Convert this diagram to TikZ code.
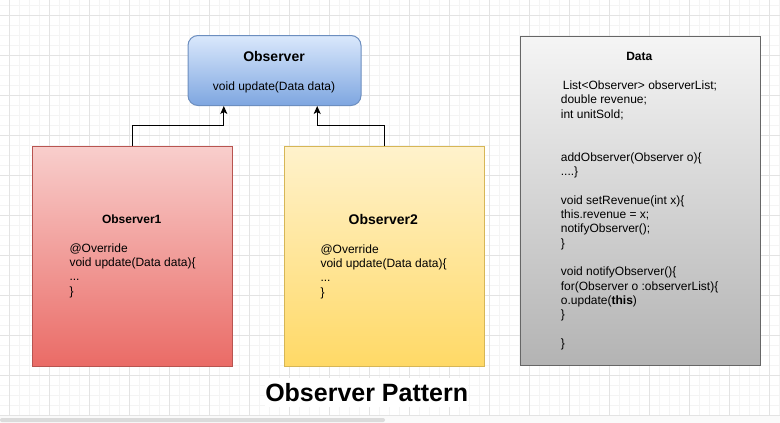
\documentclass[tikz,border=0pt]{standalone}
\usepackage{fontspec}
\setmainfont{Liberation Sans}
\usetikzlibrary{arrows.meta,calc}
\definecolor{blueT}{HTML}{DAE8FC}\definecolor{blueB}{HTML}{7EA6E0}\definecolor{blueS}{HTML}{6C8EBF}
\definecolor{redT}{HTML}{F8CECC}\definecolor{redB}{HTML}{EA6B66}\definecolor{redS}{HTML}{B85450}
\definecolor{yelT}{HTML}{FFF2CC}\definecolor{yelB}{HTML}{FFD966}\definecolor{yelS}{HTML}{D6B656}
\definecolor{grayT}{HTML}{F5F5F5}\definecolor{grayB}{HTML}{B3B3B3}\definecolor{grayS}{HTML}{666666}
\definecolor{gridMinor}{HTML}{F4F4F4}\definecolor{gridMajor}{HTML}{E3E3E3}
\newcommand\codetext[1]{\parbox[t]{8cm}{\raggedright #1}}
\begin{document}
\begin{tikzpicture}[x=1pt,y=-1pt,
  box/.style={draw, line width=1pt, inner sep=0pt, anchor=north west},
  code/.style={font=\fontsize{12}{14.35}\selectfont, inner sep=0pt, anchor=base west},
  ttl/.style={font=\bfseries\fontsize{#1}{#1}\selectfont, inner sep=0pt, anchor=base},
  conn/.style={draw=black, line width=1pt, -{Stealth[length=8pt,width=7pt,inset=2pt]}}]
\useasboundingbox (0,0) rectangle (780,423);
\fill[white] (0,0) rectangle (780,423);
% grid
\foreach \x in {9.5,19.5,...,779.5} \draw[gridMinor,line width=1pt] (\x,0) -- (\x,416);
\foreach \y in {5,15,...,415} \draw[gridMinor,line width=1pt] (0,\y) -- (780,\y);
\foreach \x in {9.5,49.5,...,769.5} \draw[gridMajor,line width=1pt] (\x,0) -- (\x,416);
\foreach \y in {15,55,...,415} \draw[gridMajor,line width=1pt] (0,\y) -- (780,\y);
% scrollbar strip
\fill[gray!4] (0,416) rectangle (780,423);
\fill[gray!28,rounded corners=2pt] (0,418) rectangle (385,422);
% boxes
\node[box, draw=blueS, top color=blueT, bottom color=blueB, rounded corners=10pt,
      minimum width=173pt, minimum height=70pt] (obs) at (187.5,35) {};
\node[box, draw=redS, top color=redT, bottom color=redB,
      minimum width=200pt, minimum height=220pt] (o1) at (32,146) {};
\node[box, draw=yelS, top color=yelT, bottom color=yelB,
      minimum width=200pt, minimum height=220pt] (o2) at (283.5,146) {};
\node[box, draw=grayS, top color=grayT, bottom color=grayB,
      minimum width=240pt, minimum height=329pt] (data) at (519.5,36) {};
% Observer texts
\node[ttl=14] (obsT) at (274,61) {Observer};
\node[code, anchor=base] (obsM) at (274,90) {void update(Data data)};
% Observer1 texts
\node[ttl=12] (o1T) at (131.7,223.3) {Observer1};
\node[code] (o1M) at (69.3,252) {\codetext{@Override\\void update(Data data)\{\\...\\\}}};
% Observer2 texts
\node[ttl=14] (o2T) at (383.3,224) {Observer2};
\node[code] (o2M) at (320.3,253) {\codetext{@Override\\void update(Data data)\{\\...\\\}}};
% Data texts
\node[ttl=12] (dataT) at (639.3,60.3) {Data};
\node[code] (dataM) at (560.7,89.3) {\codetext{\hspace*{2pt}List<Observer> observerList;\\
double revenue;\\
int unitSold;\\[28.7pt]
addObserver(Observer o)\{\\
....\}\\[14.35pt]
void setRevenue(int x)\{\\
this.revenue = x;\\
notifyObserver();\\
\}\\[14.35pt]
void notifyObserver()\{\\
for(Observer o :observerList)\{\\
o.update(\textbf{this})\\
\}\\[14.35pt]
\}}};
% connectors
\draw[conn] (o1.north) -- ++(0,-21) -| ([xshift=-50.7pt]obs.south);
\draw[conn] (o2.north) -- ++(0,-21) -| ([xshift=42.7pt]obs.south);
% title
\node[fill=white, inner sep=0pt, minimum width=203pt, minimum height=29pt,
      font=\bfseries\fontsize{25}{25}\selectfont] (title) at (366.7,392.5) {Observer Pattern};
\end{tikzpicture}
\end{document}
